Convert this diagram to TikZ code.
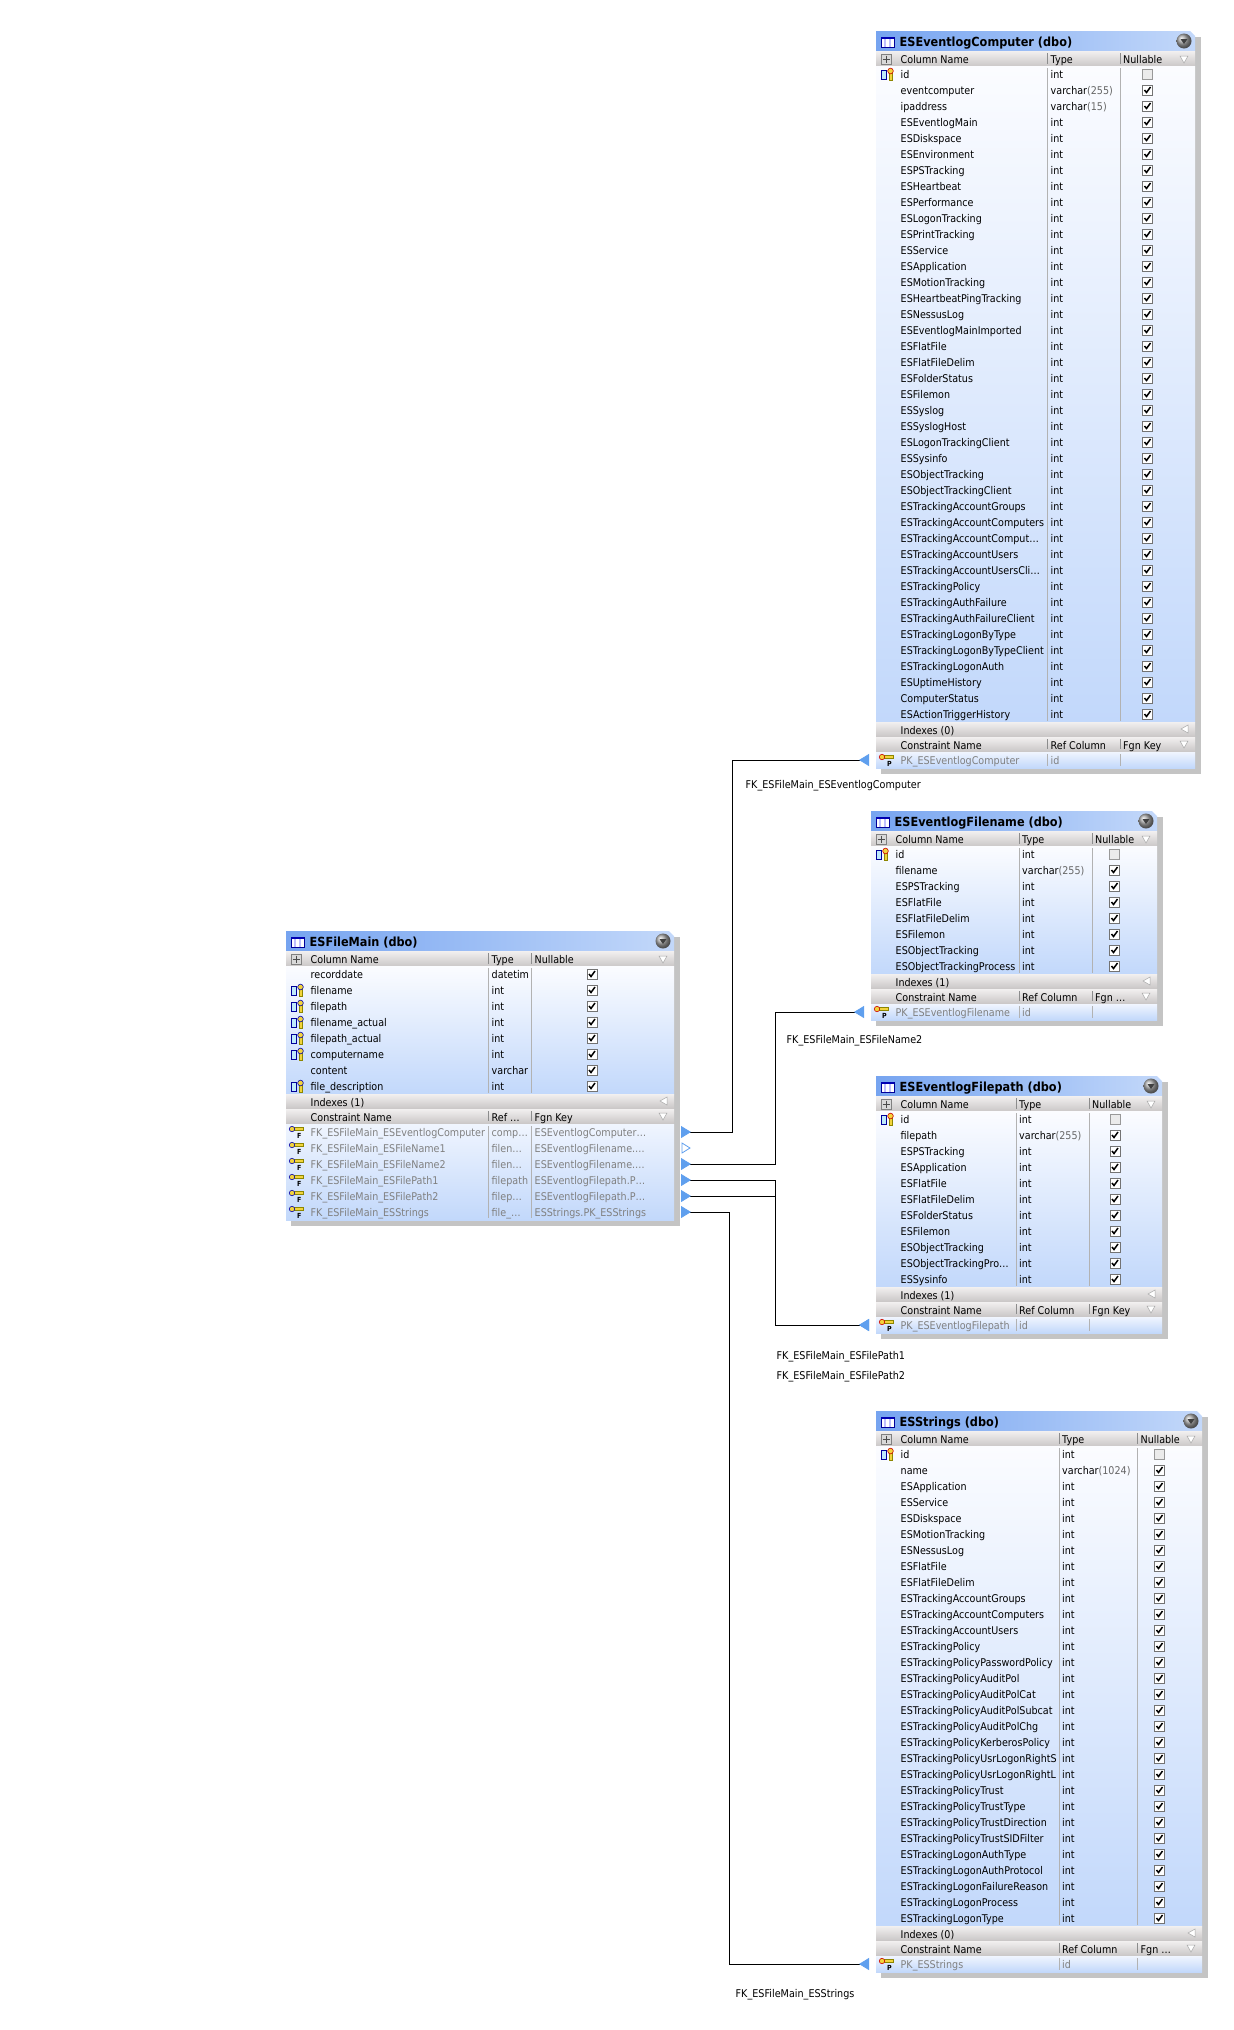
\documentclass[tikz,border=0pt]{standalone}
\usepackage{fontspec}
\setmainfont[FakeStretch=0.9]{DejaVu Sans}
\usepackage{xcolor}
\usetikzlibrary{arrows.meta}

\definecolor{titleblue}{HTML}{76A4F0}
\definecolor{titlepale}{HTML}{C3D8FA}
\definecolor{rowpale}{HTML}{FBFCFF}
\definecolor{rowblue}{HTML}{C2D8FB}
\definecolor{bandtop}{HTML}{F2F0F0}
\definecolor{bandlow}{HTML}{CBC8C8}
\definecolor{arrowblue}{HTML}{5F9FEE}
\definecolor{keyyellow}{HTML}{F2D43C}
\definecolor{shadowgrey}{HTML}{C4C4C4}
\definecolor{textgrey}{HTML}{808080}

% bracket part of a type
\newcommand{\lenp}[1]{{\color{black!60}(#1)}}

% id, left, right, top, column rows, constraint rows, type x, nullable x, title
\newcommand{\tabframe}[9]{
	\def\tabid{#1}\def\tabL{#2}\def\tabR{#3}\def\tabT{#4}\def\typeX{#7}\def\nullX{#8}
	\pgfmathsetmacro\rowsB{#4+35+16*#5}
	\pgfmathsetmacro\tabB{\rowsB+30+16*#6}
	\fill[shadowgrey] ({#2+5},{#4+6}) rectangle ({#3+6},{\tabB+6});
	\shade[left color=titleblue, right color=titlepale] (#2,#4) -- ({#3-5},#4) -- (#3,{#4+5}) -- (#3,{#4+20}) -- (#2,{#4+20}) -- cycle;
	\fill[white] (#2,{#4+20}) rectangle (#3,{#4+21});
	\shade[top color=bandtop, bottom color=bandlow] (#2,{#4+20}) rectangle (#3,{#4+35});
	\shade[top color=rowpale, bottom color=rowblue] (#2,{#4+35}) rectangle (#3,\rowsB);
	\draw[colsep] (#7,{#4+37}) -- (#7,{\rowsB-1});
	\draw[colsep] (#8,{#4+37}) -- (#8,{\rowsB-1});
	\draw[headsep] (#7,{#4+22}) -- (#7,{#4+33});
	\draw[headsep] (#8,{#4+22}) -- (#8,{#4+33});
	% title icon
	\draw[navy, fill=white] ({#2+5},{#4+6}) rectangle ({#2+18},{#4+16});
	\fill[blue!70!black] ({#2+5},{#4+6}) rectangle ({#2+18},{#4+8});
	\fill[blue!25] ({#2+7.5},{#4+8}) rectangle ({#2+9.5},{#4+16});
	\fill[blue!25] ({#2+12.5},{#4+8}) rectangle ({#2+14.5},{#4+16});
	\node[titletext] (#1-title) at ({#2+23.5},{#4+15}) {#9};
	% drop button
	\shade[ball color=gray!70] ({#3-11},{#4+10}) circle (7.5pt);
	\fill[black!75] ({#3-14.5},{#4+8}) -- ({#3-7.5},{#4+8}) -- ({#3-11},{#4+13}) -- cycle;
	% header row
	\draw[gray, fill=gray!30] ({#2+5},{#4+23}) rectangle ({#2+15},{#4+33});
	\draw[black!70, thick] ({#2+6.5},{#4+28}) -- ({#2+13.5},{#4+28}) ({#2+10},{#4+24.5}) -- ({#2+10},{#4+31.5});
	\node[celltext] (#1-colhead) at ({#2+24.5},{#4+32}) {Column Name};
	\node[celltext] (#1-typehead) at ({#7+3},{#4+32}) {Type};
	\node[celltext] (#1-nullhead) at ({#8+3},{#4+32}) {Nullable};
	\draw[filtermark] ({#3-15},{#4+25}) -- ({#3-7},{#4+25}) -- ({#3-11},{#4+32}) -- cycle;
}

% indexes label, ref column label, fgn key label
\newcommand{\tabfoot}[3]{
	\shade[top color=bandtop, bottom color=bandlow] (\tabL,\rowsB) rectangle (\tabR,{\rowsB+14});
	\shade[top color=bandtop, bottom color=bandlow] (\tabL,{\rowsB+15}) rectangle (\tabR,{\rowsB+29});
	\shade[top color=rowpale!80!rowblue, bottom color=rowblue] (\tabL,{\rowsB+30}) rectangle (\tabR,\tabB);
	\draw[colsep] (\typeX,{\rowsB+32}) -- (\typeX,{\tabB-2});
	\draw[colsep] (\nullX,{\rowsB+32}) -- (\nullX,{\tabB-2});
	\draw[headsep] (\typeX,{\rowsB+17}) -- (\typeX,{\rowsB+27});
	\draw[headsep] (\nullX,{\rowsB+17}) -- (\nullX,{\rowsB+27});
	\draw[filtermark] ({\tabR-7},{\rowsB+3}) -- ({\tabR-7},{\rowsB+11}) -- ({\tabR-14},{\rowsB+7}) -- cycle;
	\draw[filtermark] ({\tabR-15},{\rowsB+19}) -- ({\tabR-7},{\rowsB+19}) -- ({\tabR-11},{\rowsB+26}) -- cycle;
	\node[celltext] (\tabid-indexes) at ({\tabL+24.5},{\rowsB+12}) {#1};
	\node[celltext] (\tabid-conshead) at ({\tabL+24.5},{\rowsB+27}) {Constraint Name};
	\node[celltext] (\tabid-refhead) at ({\typeX+3},{\rowsB+27}) {#2};
	\node[celltext] (\tabid-fgnhead) at ({\nullX+3},{\rowsB+27}) {#3};
}

% row, name, type
\newcommand{\colcells}[3]{
	\pgfmathsetmacro\rowy{\tabT+43+16*#1}
	\node[celltext] (\tabid-name-#1) at ({\tabL+24.5},{\rowy+4}) {#2};
	\node[celltext] (\tabid-type-#1) at ({\typeX+3},{\rowy+4}) {#3};
}
\newcommand{\colrow}[3]{
	\colcells{#1}{#2}{#3}
	\node[checkbox] (\tabid-check-#1) at (\checkX,\rowy) {};
	\draw[checkmark] ({\checkX-3},\rowy) -- ({\checkX-1},{\rowy+2.5}) -- ({\checkX+3},{\rowy-3});
}
\newcommand{\keyicon}[1]{
	\draw[navy, fill=cyan!25] ({\tabL+5},{\rowy-4}) rectangle ({\tabL+10},{\rowy+5});
	\draw[olive, fill=keyyellow] ({\tabL+13},{\rowy-2}) rectangle ({\tabL+16},{\rowy+6});
	\draw[#1, fill=keyyellow, semithick] ({\tabL+14.5},{\rowy-3}) circle (2.8pt);
}
\newcommand{\keyrow}[3]{
	\colrow{#1}{#2}{#3}
	\keyicon{blue!70!black}
}
\newcommand{\idrow}[2]{
	\colcells{0}{#1}{#2}
	\node[emptybox] (\tabid-check-0) at (\checkX,\rowy) {};
	\keyicon{red!80!black}
}

% row, name, ref, fgn, ring colour, letter
\newcommand{\consrow}[6]{
	\pgfmathsetmacro\rowy{\rowsB+38+16*#1}
	\draw[olive, fill=keyyellow] ({\tabL+8},{\rowy-4.5}) rectangle ({\tabL+17},{\rowy-1.5});
	\draw[#5, fill=keyyellow, semithick] ({\tabL+6},{\rowy-3}) circle (2.7pt);
	\node[keyletter] (\tabid-key-#1) at ({\tabL+11},{\rowy+6}) {#6};
	\node[celltext, textgrey] (\tabid-cons-#1) at ({\tabL+24.5},{\rowy+4}) {#2};
	\node[celltext, textgrey] (\tabid-ref-#1) at ({\typeX+3},{\rowy+4}) {#3};
	\node[celltext, textgrey] (\tabid-fgn-#1) at ({\nullX+3},{\rowy+4}) {#4};
	\coordinate (\tabid-in) at ({\tabL-7},\rowy);
	\coordinate (\tabid-out-#1) at ({\tabR+7},\rowy);
}
\colorlet{navy}{blue!60!black}

\begin{document}
\begin{tikzpicture}[x=1pt, y=-1pt,
		celltext/.style={anchor=base west, inner sep=0pt, font=\fontsize{10.65}{12}\selectfont},
		titletext/.style={anchor=base west, inner sep=0pt, font=\fontsize{12.55}{14}\selectfont\bfseries},
		fklabel/.style={anchor=base west, inner sep=0pt, font=\fontsize{10.7}{12}\selectfont},
		keyletter/.style={anchor=base west, inner sep=0pt, font=\fontsize{7}{7}\selectfont\bfseries},
		colsep/.style={draw=black!30, line width=0.8pt},
		headsep/.style={draw=black!45, line width=0.8pt},
		filtermark/.style={draw=black!35, fill=white, line width=0.5pt},
		checkbox/.style={draw=black!55, fill=white, line width=0.8pt, inner sep=0pt, minimum size=10pt},
		emptybox/.style={draw=black!40, fill=black!8, line width=0.8pt, inner sep=0pt, minimum size=10pt},
		checkmark/.style={draw=black, line width=1.5pt},
		fklink/.style={draw=black, line width=0.85pt,
			{Triangle[reversed, length=10pt, width=12pt, color=arrowblue]}-{Triangle[reversed, length=10pt, width=12pt, color=arrowblue]}}]

	\useasboundingbox (0,0) rectangle (1234,2030);

	% ESEventlogComputer
	\tabframe{comp}{876}{1195}{31}{41}{1}{1047.5}{1120}{ESEventlogComputer (dbo)}
	\def\checkX{1147.5}
	\idrow{id}{int}
	\colrow{1}{eventcomputer}{varchar\lenp{255}}
	\colrow{2}{ipaddress}{varchar\lenp{15}}
	\foreach \colname [count=\rowno from 3] in {ESEventlogMain, ESDiskspace, ESEnvironment, ESPSTracking, ESHeartbeat, ESPerformance, ESLogonTracking, ESPrintTracking, ESService, ESApplication, ESMotionTracking, ESHeartbeatPingTracking, ESNessusLog, ESEventlogMainImported, ESFlatFile, ESFlatFileDelim, ESFolderStatus, ESFilemon, ESSyslog, ESSyslogHost, ESLogonTrackingClient, ESSysinfo, ESObjectTracking, ESObjectTrackingClient, ESTrackingAccountGroups, ESTrackingAccountComputers, ESTrackingAccountComput…, ESTrackingAccountUsers, ESTrackingAccountUsersCli…, ESTrackingPolicy, ESTrackingAuthFailure, ESTrackingAuthFailureClient, ESTrackingLogonByType, ESTrackingLogonByTypeClient, ESTrackingLogonAuth, ESUptimeHistory, ComputerStatus, ESActionTriggerHistory}
		{\colrow{\rowno}{\colname}{int}}
	\tabfoot{Indexes (0)}{Ref Column}{Fgn Key}
	\consrow{0}{PK\_ESEventlogComputer}{id}{}{red!80!black}{P}

	% ESEventlogFilename
	\tabframe{fname}{871}{1157}{811}{8}{1}{1019}{1092}{ESEventlogFilename (dbo)}
	\def\checkX{1114.5}
	\idrow{id}{int}
	\colrow{1}{filename}{varchar\lenp{255}}
	\foreach \colname [count=\rowno from 2] in {ESPSTracking, ESFlatFile, ESFlatFileDelim, ESFilemon, ESObjectTracking, ESObjectTrackingProcess}
		{\colrow{\rowno}{\colname}{int}}
	\tabfoot{Indexes (1)}{Ref Column}{Fgn …}
	\consrow{0}{PK\_ESEventlogFilename}{id}{}{red!80!black}{P}

	% ESEventlogFilepath
	\tabframe{fpath}{876}{1162}{1076}{11}{1}{1016}{1089}{ESEventlogFilepath (dbo)}
	\def\checkX{1115}
	\idrow{id}{int}
	\colrow{1}{filepath}{varchar\lenp{255}}
	\foreach \colname [count=\rowno from 2] in {ESPSTracking, ESApplication, ESFlatFile, ESFlatFileDelim, ESFolderStatus, ESFilemon, ESObjectTracking, ESObjectTrackingPro…, ESSysinfo}
		{\colrow{\rowno}{\colname}{int}}
	\tabfoot{Indexes (1)}{Ref Column}{Fgn Key}
	\consrow{0}{PK\_ESEventlogFilepath}{id}{}{red!80!black}{P}

	% ESStrings
	\tabframe{strs}{876}{1202}{1411}{30}{1}{1059}{1137.5}{ESStrings (dbo)}
	\def\checkX{1159.5}
	\idrow{id}{int}
	\colrow{1}{name}{varchar\lenp{1024}}
	\foreach \colname [count=\rowno from 2] in {ESApplication, ESService, ESDiskspace, ESMotionTracking, ESNessusLog, ESFlatFile, ESFlatFileDelim, ESTrackingAccountGroups, ESTrackingAccountComputers, ESTrackingAccountUsers, ESTrackingPolicy, ESTrackingPolicyPasswordPolicy, ESTrackingPolicyAuditPol, ESTrackingPolicyAuditPolCat, ESTrackingPolicyAuditPolSubcat, ESTrackingPolicyAuditPolChg, ESTrackingPolicyKerberosPolicy, ESTrackingPolicyUsrLogonRightS, ESTrackingPolicyUsrLogonRightL, ESTrackingPolicyTrust, ESTrackingPolicyTrustType, ESTrackingPolicyTrustDirection, ESTrackingPolicyTrustSIDFilter, ESTrackingLogonAuthType, ESTrackingLogonAuthProtocol, ESTrackingLogonFailureReason, ESTrackingLogonProcess, ESTrackingLogonType}
		{\colrow{\rowno}{\colname}{int}}
	\tabfoot{Indexes (0)}{Ref Column}{Fgn …}
	\consrow{0}{PK\_ESStrings}{id}{}{red!80!black}{P}

	% ESFileMain
	\tabframe{main}{286}{674}{931}{8}{6}{488.5}{531.5}{ESFileMain (dbo)}
	\def\checkX{592}
	\colrow{0}{recorddate}{datetim}
	\keyrow{1}{filename}{int}
	\keyrow{2}{filepath}{int}
	\keyrow{3}{filename\_actual}{int}
	\keyrow{4}{filepath\_actual}{int}
	\keyrow{5}{computername}{int}
	\colrow{6}{content}{varchar}
	\keyrow{7}{file\_description}{int}
	\tabfoot{Indexes (1)}{Ref …}{Fgn Key}
	\consrow{0}{FK\_ESFileMain\_ESEventlogComputer}{comp…}{ESEventlogComputer…}{blue!70!black}{F}
	\consrow{1}{FK\_ESFileMain\_ESFileName1}{filen…}{ESEventlogFilename.…}{blue!70!black}{F}
	\consrow{2}{FK\_ESFileMain\_ESFileName2}{filen…}{ESEventlogFilename.…}{blue!70!black}{F}
	\consrow{3}{FK\_ESFileMain\_ESFilePath1}{filepath}{ESEventlogFilepath.P…}{blue!70!black}{F}
	\consrow{4}{FK\_ESFileMain\_ESFilePath2}{filep…}{ESEventlogFilepath.P…}{blue!70!black}{F}
	\consrow{5}{FK\_ESFileMain\_ESStrings}{file\_…}{ESStrings.PK\_ESStrings}{blue!70!black}{F}

	% hollow marker, no line
	\draw[arrowblue, fill=white, line width=0.8pt] (682,1143) -- (690,1148) -- (682,1153) -- cycle;

	% Foreign key links
	\coordinate (bendcomp) at (732,760);
	\coordinate (bendfname) at (775,1012);
	\coordinate (bendfpath) at (775,1325);
	\coordinate (bendstrs) at (729,1964);
	\draw[fklink] (main-out-0) -| (bendcomp) -- (comp-in);
	\draw[fklink] (main-out-2) -| (bendfname) -- (fname-in);
	\draw[fklink] (main-out-3) -| (bendfpath) -- (fpath-in);
	\draw[fklink] (main-out-4) -| (bendfpath) -- (fpath-in);
	\draw[fklink] (main-out-5) -| (bendstrs) -- (strs-in);

	\node[fklabel] (labelcomp) at (745.5,788) {FK\_ESFileMain\_ESEventlogComputer};
	\node[fklabel] (labelfname) at (786.5,1043) {FK\_ESFileMain\_ESFileName2};
	\node[fklabel] (labelpathone) at (776.5,1359) {FK\_ESFileMain\_ESFilePath1};
	\node[fklabel] (labelpathtwo) at (776.5,1379) {FK\_ESFileMain\_ESFilePath2};
	\node[fklabel] (labelstrs) at (735.5,1997) {FK\_ESFileMain\_ESStrings};
\end{tikzpicture}
\end{document}
